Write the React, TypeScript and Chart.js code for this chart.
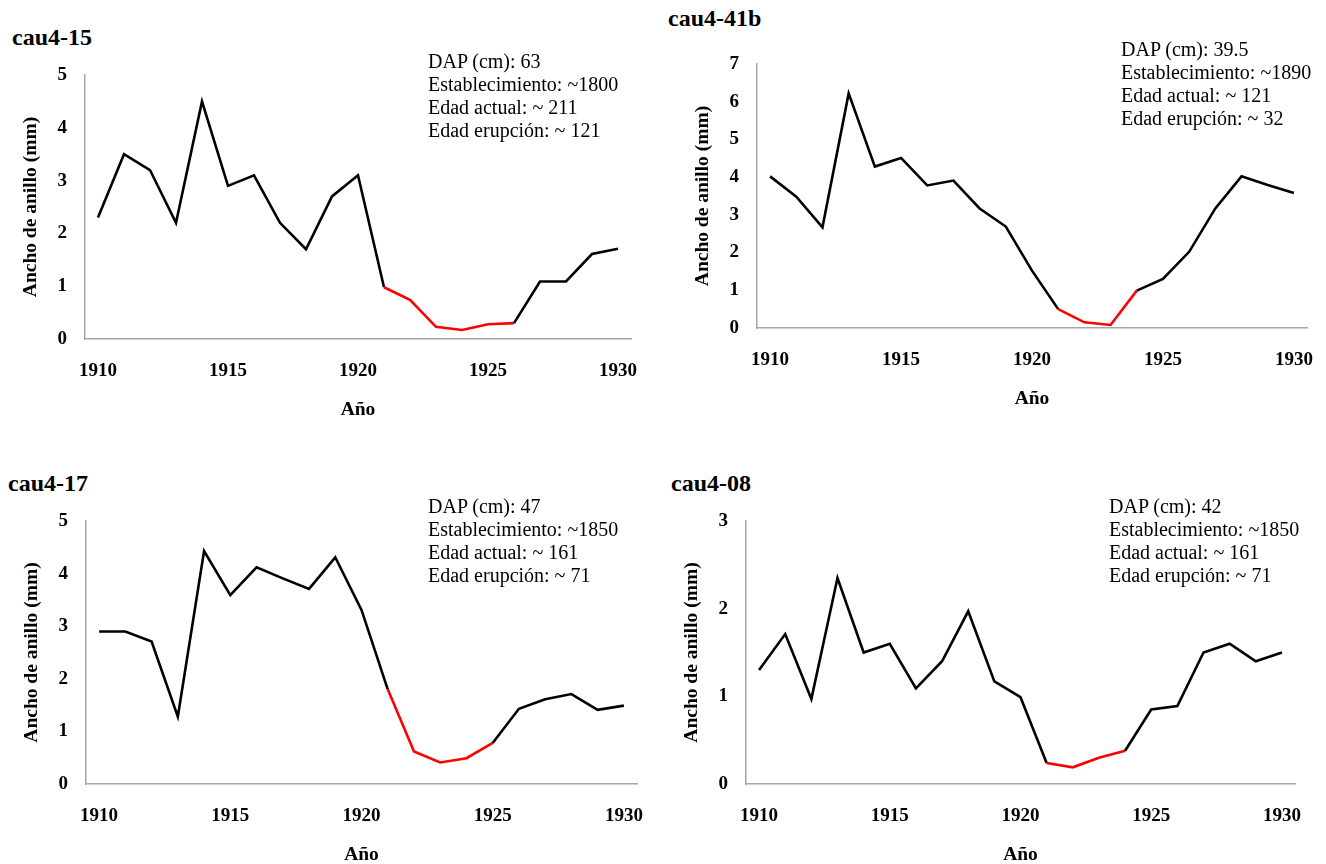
import React, { useEffect, useRef } from "react";
import { Chart, registerables } from "chart.js";

Chart.register(...registerables);

// ---------- Data ----------
const years = [
  "1910", "1911", "1912", "1913", "1914", "1915", "1916", "1917", "1918", "1919", "1920",
  "1921", "1922", "1923", "1924", "1925", "1926", "1927", "1928", "1929", "1930",
];

const cau415 = [2.3, 3.5, 3.2, 2.2, 4.5, 2.9, 3.1, 2.2, 1.7, 2.7, 3.1, 0.98, 0.74, 0.23, 0.17, 0.28, 0.3, 1.09, 1.09, 1.61, 1.71];
const cau441b = [4.02, 3.48, 2.67, 6.22, 4.28, 4.51, 3.78, 3.91, 3.17, 2.69, 1.52, 0.5, 0.15, 0.08, 0.99, 1.3, 2.02, 3.17, 4.02, 3.79, 3.58];
const cau417 = [2.9, 2.9, 2.71, 1.28, 4.43, 3.59, 4.12, 3.91, 3.71, 4.31, 3.31, 1.8, 0.62, 0.41, 0.49, 0.78, 1.43, 1.61, 1.71, 1.41, 1.49];
const cau408 = [1.3, 1.71, 0.97, 2.35, 1.5, 1.6, 1.09, 1.4, 1.97, 1.17, 0.99, 0.24, 0.19, 0.3, 0.38, 0.85, 0.89, 1.5, 1.6, 1.4, 1.5];

// red (eruption) segment: first and last year index
const red415 = [11, 16];
const red441b = [11, 14];
const red417 = [11, 15];
const red408 = [11, 14];

const yMax415 = 5;
const yMax441b = 7;
const yMax417 = 5;
const yMax408 = 3;

const info415 = ["DAP (cm): 63", "Establecimiento: ~1800", "Edad actual: ~ 211", "Edad erupción: ~ 121"];
const info441b = ["DAP (cm): 39.5", "Establecimiento: ~1890", "Edad actual: ~ 121", "Edad erupción: ~ 32"];
const info417 = ["DAP (cm): 47", "Establecimiento: ~1850", "Edad actual: ~ 161", "Edad erupción: ~ 71"];
const info408 = ["DAP (cm): 42", "Establecimiento: ~1850", "Edad actual: ~ 161", "Edad erupción: ~ 71"];

const yTitle = "Ancho de anillo (mm)";
const xTitle = "Año";

// ---------- Styling ----------
const FONT = '"Liberation Serif", "Times New Roman", serif';
const Y_AXIS_W = 66;
const X_AXIS_H = 83;
const PAD_TOP = 15;
const PAD_RIGHT = 12;

type Area = { l: number; t: number; r: number; b: number };

function Panel(props: {
  values: number[];
  red: number[];
  yMax: number;
  area: Area;
  title: string;
  titlePos: { left: number; top: number };
  info: string[];
  infoPos: { left: number; top: number };
}) {
  const ref = useRef<HTMLCanvasElement | null>(null);
  const { area } = props;
  const cLeft = area.l - Y_AXIS_W;
  const cTop = area.t - PAD_TOP;
  const cW = area.r - cLeft + PAD_RIGHT;
  const cH = area.b + X_AXIS_H - cTop;

  useEffect(() => {
    if (!ref.current) return;
    const [rs, re] = props.red;
    const tickFont = { family: FONT, size: 19, weight: "bold" as const };
    const titleFont = { family: FONT, size: 19.5, weight: "bold" as const };
    const chart = new Chart(ref.current, {
      type: "line",
      data: {
        labels: years,
        datasets: [
          {
            data: props.values,
            borderColor: "#000000",
            borderWidth: 2.6,
            pointRadius: 0,
            pointHoverRadius: 0,
            tension: 0,
            fill: false,
            segment: {
              borderColor: (ctx: any) =>
                ctx.p0DataIndex >= rs && ctx.p1DataIndex <= re ? "#ff0000" : "#000000",
            },
          },
        ],
      },
      options: {
        animation: false,
        responsive: false,
        maintainAspectRatio: false,
        layout: { padding: { left: 0, top: PAD_TOP, right: PAD_RIGHT, bottom: 0 } },
        plugins: { legend: { display: false }, tooltip: { enabled: false } },
        scales: {
          x: {
            type: "category",
            offset: true,
            grid: { display: false, drawTicks: false, tickLength: 0 },
            border: { display: true, color: "#a6a6a6", width: 1.5 },
            ticks: {
              autoSkip: false,
              maxRotation: 0,
              minRotation: 0,
              padding: 21,
              color: "#000",
              font: tickFont,
              callback: function (this: any, v: any, i: number) {
                return i % 5 === 0 ? this.getLabelForValue(v) : "";
              },
            },
            title: { display: true, text: xTitle, color: "#000", font: titleFont, padding: 0 },
            afterFit: (s: any) => {
              s.height = X_AXIS_H;
              s.paddingLeft = 0;
              s.paddingRight = 0;
            },
          },
          y: {
            min: 0,
            max: props.yMax,
            grid: { display: false, drawTicks: false, tickLength: 0 },
            border: { display: true, color: "#a6a6a6", width: 1.5 },
            ticks: { stepSize: 1, padding: 18, color: "#000", font: tickFont },
            title: { display: true, text: yTitle, color: "#000", font: titleFont, padding: 0 },
            afterFit: (s: any) => {
              s.width = Y_AXIS_W;
              s.paddingTop = 0;
              s.paddingBottom = 0;
            },
          },
        },
      } as any,
    });
    return () => chart.destroy();
  }, []);

  return (
    <>
      <canvas
        ref={ref}
        width={cW}
        height={cH}
        style={{ position: "absolute", left: cLeft, top: cTop, width: cW, height: cH }}
      />
      <div
        style={{
          position: "absolute",
          left: props.titlePos.left,
          top: props.titlePos.top,
          font: `bold 24px ${FONT}`,
          lineHeight: "26px",
          color: "#000",
          whiteSpace: "nowrap",
        }}
      >
        {props.title}
      </div>
      <div
        style={{
          position: "absolute",
          left: props.infoPos.left,
          top: props.infoPos.top,
          font: `20px ${FONT}`,
          lineHeight: "23px",
          color: "#000",
          whiteSpace: "nowrap",
        }}
      >
        {props.info.map((t, i) => (
          <div key={i}>{t}</div>
        ))}
      </div>
    </>
  );
}

export default function App() {
  return (
    <div
      style={{
        position: "absolute",
        left: 0,
        top: 0,
        width: 1326,
        height: 864,
        background: "#ffffff",
        overflow: "hidden",
      }}
    >
      <Panel
        values={cau415}
        red={red415}
        yMax={yMax415}
        area={{ l: 85, t: 75, r: 631, b: 339 }}
        title="cau4-15"
        titlePos={{ left: 12, top: 24 }}
        info={info415}
        infoPos={{ left: 428, top: 50 }}
      />
      <Panel
        values={cau441b}
        red={red441b}
        yMax={yMax441b}
        area={{ l: 757, t: 64, r: 1307, b: 328 }}
        title="cau4-41b"
        titlePos={{ left: 668, top: 5 }}
        info={info441b}
        infoPos={{ left: 1121, top: 38 }}
      />
      <Panel
        values={cau417}
        red={red417}
        yMax={yMax417}
        area={{ l: 86, t: 521, r: 637, b: 784 }}
        title="cau4-17"
        titlePos={{ left: 8, top: 470 }}
        info={info417}
        infoPos={{ left: 428, top: 495 }}
      />
      <Panel
        values={cau408}
        red={red408}
        yMax={yMax408}
        area={{ l: 746, t: 521, r: 1295, b: 784 }}
        title="cau4-08"
        titlePos={{ left: 671, top: 470 }}
        info={info408}
        infoPos={{ left: 1109, top: 495 }}
      />
    </div>
  );
}
